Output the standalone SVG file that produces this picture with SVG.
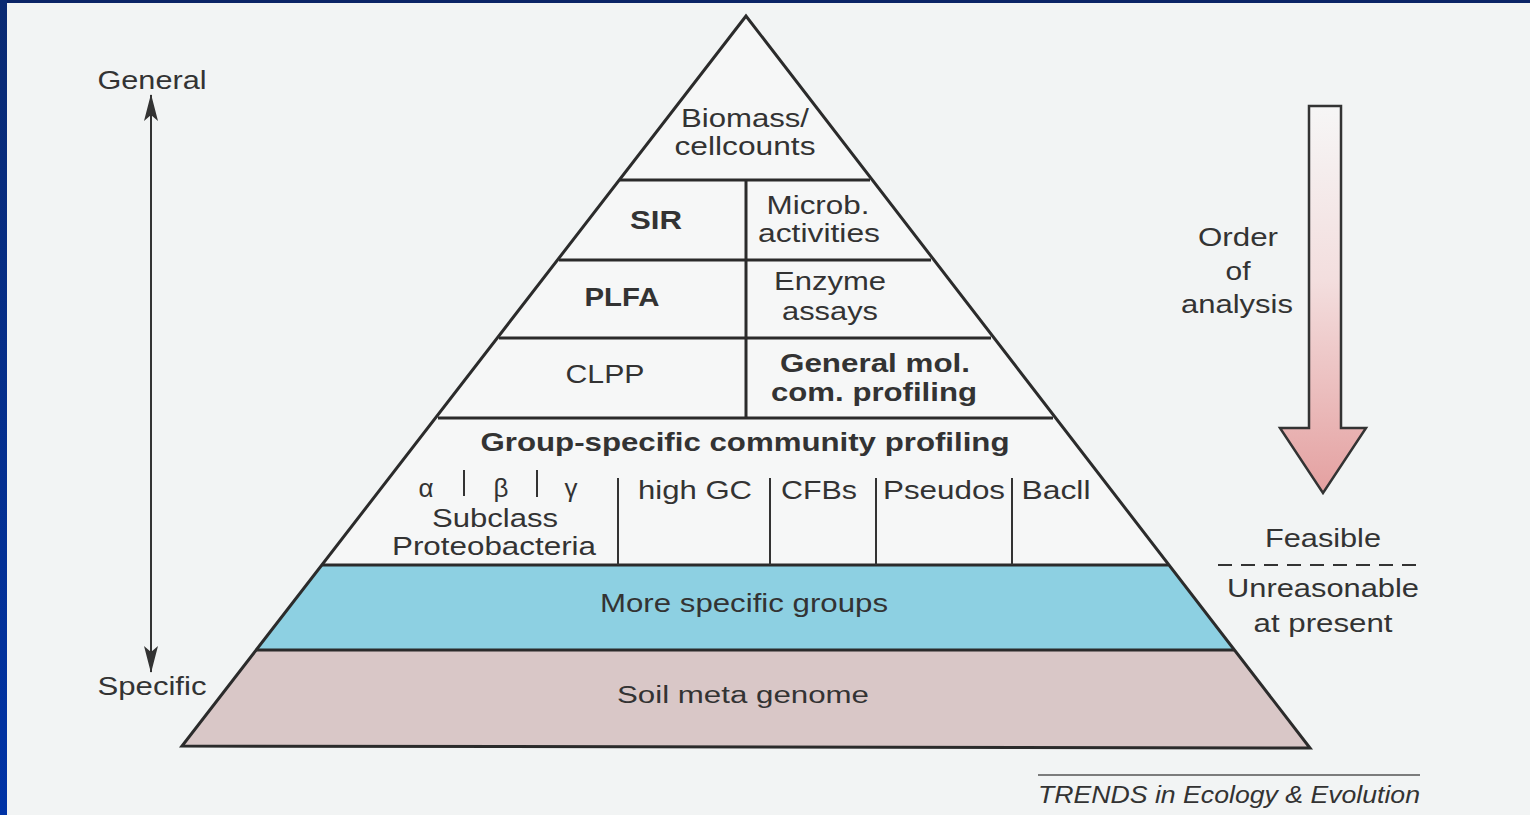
<svg xmlns="http://www.w3.org/2000/svg" width="1530" height="815" viewBox="0 0 1530 815">
  <defs>
    <linearGradient id="leftbar" x1="0" y1="0" x2="0" y2="1">
      <stop offset="0" stop-color="#0a2a72"/>
      <stop offset="1" stop-color="#0033a6"/>
    </linearGradient>
    <linearGradient id="arrowfill" x1="0" y1="0" x2="0" y2="1">
      <stop offset="0" stop-color="#f6f6f6"/>
      <stop offset="0.45" stop-color="#f3dede"/>
      <stop offset="1" stop-color="#e4a0a0"/>
    </linearGradient>
    <marker id="ah" viewBox="0 0 28 14" refX="27" refY="7" markerWidth="28" markerHeight="14" markerUnits="userSpaceOnUse" orient="auto-start-reverse">
      <path d="M28 7 L1 0 L7 7 L1 14 Z" fill="#333"/>
    </marker>
    <style>
      text { font-family: "Liberation Sans", Arial, sans-serif; fill: #333; font-size: 26px; text-anchor: middle; }
      .b { font-weight: bold; }
      .it { font-style: italic; text-anchor: start; }
      .ln { stroke: #2b2b2b; stroke-width: 3; fill: none; }
      .thin { stroke: #333; stroke-width: 2; fill: none; }
    </style>
  </defs>

  <!-- background and frame -->
  <rect x="0" y="0" width="1530" height="815" fill="#f2f4f4"/>
  <rect x="0" y="0" width="1530" height="3" fill="#0b2466"/>
  <rect x="0" y="0" width="7" height="815" fill="url(#leftbar)"/>

  <!-- pyramid body -->
  <g id="pyramid">
    <polygon points="746,16 182,746 1310,748" fill="#f6f7f7"/>
    <polygon points="322,565 1168,565 1234,650 256,650" fill="#8dd0e2"/>
    <polygon points="256,650 1234,650 1310,748 182,746" fill="#d9c7c7"/>
    <polygon points="746,16 182,746 1310,748" class="ln"/>
    <line x1="620" y1="180" x2="870" y2="180" class="ln"/>
    <line x1="559" y1="260" x2="931" y2="260" class="ln"/>
    <line x1="499" y1="338" x2="991" y2="338" class="ln"/>
    <line x1="438" y1="418" x2="1053" y2="418" class="ln"/>
    <line x1="322" y1="565" x2="1168" y2="565" class="ln"/>
    <line x1="256" y1="650" x2="1234" y2="650" class="ln"/>
    <line x1="746" y1="180" x2="746" y2="418" class="ln"/>
    <line x1="618" y1="478" x2="618" y2="565" class="thin"/>
    <line x1="770" y1="478" x2="770" y2="565" class="thin"/>
    <line x1="876" y1="478" x2="876" y2="565" class="thin"/>
    <line x1="1012" y1="478" x2="1012" y2="565" class="thin"/>
    <line x1="464" y1="470" x2="464" y2="496" class="thin"/>
    <line x1="537" y1="470" x2="537" y2="497" class="thin"/>
  </g>

  <g id="biomass">
    <text x="745" y="127" textLength="128" lengthAdjust="spacingAndGlyphs">Biomass/</text>
    <text x="745" y="155" textLength="141" lengthAdjust="spacingAndGlyphs">cellcounts</text>
  </g>
  <g id="sir"><text x="656" y="229" class="b" textLength="52" lengthAdjust="spacingAndGlyphs">SIR</text></g>
  <g id="microb">
    <text x="818" y="214" textLength="103" lengthAdjust="spacingAndGlyphs">Microb.</text>
    <text x="819" y="242" textLength="122" lengthAdjust="spacingAndGlyphs">activities</text>
  </g>
  <g id="plfa"><text x="622" y="306" class="b" textLength="75" lengthAdjust="spacingAndGlyphs">PLFA</text></g>
  <g id="enzyme">
    <text x="830" y="290" textLength="112" lengthAdjust="spacingAndGlyphs">Enzyme</text>
    <text x="830" y="320" style="font-size:25px" textLength="96" lengthAdjust="spacingAndGlyphs">assays</text>
  </g>
  <g id="clpp"><text x="605" y="383" textLength="79" lengthAdjust="spacingAndGlyphs">CLPP</text></g>
  <g id="genmol">
    <text x="875" y="372" class="b" textLength="190" lengthAdjust="spacingAndGlyphs">General mol.</text>
    <text x="874" y="401" class="b" textLength="206" lengthAdjust="spacingAndGlyphs">com. profiling</text>
  </g>
  <g id="groupspecific">
    <text x="745" y="451" class="b" textLength="529" lengthAdjust="spacingAndGlyphs">Group-specific community profiling</text>
  </g>
  <g id="proteobacteria">
    <text x="426" y="497">α</text>
    <text x="501" y="497">β</text>
    <text x="571" y="497">γ</text>
    <text x="495" y="527" textLength="126" lengthAdjust="spacingAndGlyphs">Subclass</text>
    <text x="494" y="555" textLength="204" lengthAdjust="spacingAndGlyphs">Proteobacteria</text>
  </g>
  <g id="highgc"><text x="695" y="499" textLength="114" lengthAdjust="spacingAndGlyphs">high GC</text></g>
  <g id="cfbs"><text x="819" y="499" textLength="76" lengthAdjust="spacingAndGlyphs">CFBs</text></g>
  <g id="pseudos"><text x="944" y="499" textLength="122" lengthAdjust="spacingAndGlyphs">Pseudos</text></g>
  <g id="bacll"><text x="1056" y="499" textLength="69" lengthAdjust="spacingAndGlyphs">Bacll</text></g>
  <g id="morespecific"><text x="744" y="612" textLength="288" lengthAdjust="spacingAndGlyphs">More specific groups</text></g>
  <g id="soilmeta"><text x="743" y="703" style="font-size:23px" textLength="252" lengthAdjust="spacingAndGlyphs">Soil meta genome</text></g>

  <!-- left scale -->
  <g id="general"><text x="152" y="89" textLength="109" lengthAdjust="spacingAndGlyphs">General</text></g>
  <g id="specific"><text x="152" y="695" textLength="109" lengthAdjust="spacingAndGlyphs">Specific</text></g>
  <g id="connectors">
    <line x1="151" y1="95" x2="151" y2="672" stroke="#333" stroke-width="2" marker-start="url(#ah)" marker-end="url(#ah)"/>
  </g>

  <!-- order of analysis arrow -->
  <g id="orderarrow">
    <path d="M1309 106 L1341 106 L1341 428 L1366 428 L1323 493 L1280 428 L1309 428 Z" fill="url(#arrowfill)" stroke="#333" stroke-width="2.5" stroke-linejoin="miter"/>
  </g>
  <g id="orderlabel">
    <text x="1238" y="246" textLength="80" lengthAdjust="spacingAndGlyphs">Order</text>
    <text x="1238" y="280" textLength="25" lengthAdjust="spacingAndGlyphs">of</text>
    <text x="1237" y="313" textLength="112" lengthAdjust="spacingAndGlyphs">analysis</text>
  </g>

  <!-- feasibility -->
  <g id="feasibility">
    <text x="1323" y="547" textLength="116" lengthAdjust="spacingAndGlyphs">Feasible</text>
    <line x1="1218" y1="565" x2="1422" y2="565" stroke="#333" stroke-width="2" stroke-dasharray="14 9"/>
    <text x="1323" y="597" textLength="192" lengthAdjust="spacingAndGlyphs">Unreasonable</text>
    <text x="1323" y="632" textLength="139" lengthAdjust="spacingAndGlyphs">at present</text>
  </g>

  <!-- credit -->
  <g id="credit">
    <line x1="1038" y1="775" x2="1420" y2="775" stroke="#555" stroke-width="1.5"/>
    <text x="1038" y="803" class="it" style="font-size:24px" textLength="382" lengthAdjust="spacingAndGlyphs">TRENDS in Ecology &amp; Evolution</text>
  </g>
</svg>
